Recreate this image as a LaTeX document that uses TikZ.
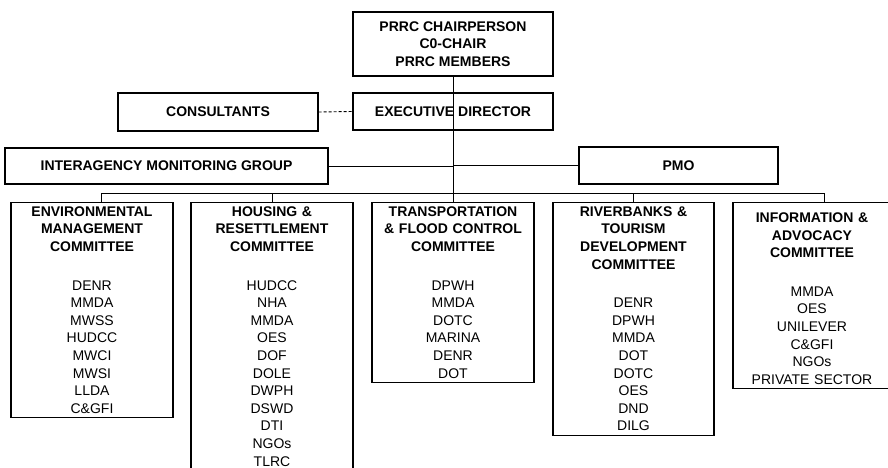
\documentclass[tikz,border=0pt]{standalone}
\usepackage{fontspec}
\setmainfont{Liberation Sans}
\usepackage{tikz}

\begin{document}
\begin{tikzpicture}[x=1bp,y=-1bp,
		box/.style={draw, line width=1.1bp, inner sep=0pt, align=center,
			font=\fontsize{14bp}{17.6bp}\selectfont\bfseries},
		comm/.style={draw, line width=1.1bp, anchor=north, inner xsep=0pt, inner ysep=4bp,
			align=center, font=\fontsize{14bp}{17.6bp}\selectfont},
		link/.style={line width=0.9bp}]
		\useasboundingbox (0,0) rectangle (888,468);

		\node[box, minimum width=200bp, minimum height=64bp] (chair) at (453,44) {PRRC CHAIRPERSON\\C0-CHAIR\\PRRC MEMBERS};
		\node[box, minimum width=200bp, minimum height=37bp] (exec) at (453,111.5) {EXECUTIVE DIRECTOR};
		\node[box, minimum width=200bp, minimum height=38bp] (cons) at (218,112) {CONSULTANTS};
		\node[box, minimum width=323bp, minimum height=36bp] (img) at (166.5,166) {INTERAGENCY MONITORING GROUP};
		\node[box, minimum width=199bp, minimum height=37bp] (pmo) at (678.5,165.5) {PMO};

		\node[comm, text width=162bp] (env) at (92,202) {\textbf{ENVIRONMENTAL}\\\textbf{MANAGEMENT}\\\textbf{COMMITTEE}\\[21bp]
			DENR\\MMDA\\MWSS\\HUDCC\\MWCI\\MWSI\\LLDA\\C\&GFI};
		\node[comm, text width=162bp] (housing) at (272,202) {\textbf{HOUSING \&}\\\textbf{RESETTLEMENT}\\\textbf{COMMITTEE}\\[21bp]
			HUDCC\\NHA\\MMDA\\OES\\DOF\\DOLE\\DWPH\\DSWD\\DTI\\NGOs\\TLRC};
		\node[comm, text width=162bp] (transport) at (453,202) {\textbf{TRANSPORTATION}\\\textbf{\& FLOOD CONTROL}\\\textbf{COMMITTEE}\\[21bp]
			DPWH\\MMDA\\DOTC\\MARINA\\DENR\\DOT};
		\node[comm, text width=161bp] (river) at (633.5,202) {\textbf{RIVERBANKS \&}\\\textbf{TOURISM}\\\textbf{DEVELOPMENT}\\\textbf{COMMITTEE}\\[21bp]
			DENR\\DPWH\\MMDA\\DOT\\DOTC\\OES\\DND\\DILG};
		\node[comm, text width=158bp] (info) at (812,202) {\rule{0pt}{16bp}\textbf{INFORMATION \&}\\\textbf{ADVOCACY}\\\textbf{COMMITTEE}\\[21bp]
			MMDA\\OES\\UNILEVER\\C\&GFI\\NGOs\\PRIVATE SECTOR};

		% lines
		\coordinate (busL) at (101,193);
		\coordinate (busR) at (824,193);
		\draw[link] (chair.south) -- (transport.north);
		\draw[link, dash pattern=on 3bp off 2bp] (cons.east) -- (exec.west);
		\draw[link] (img.east) -- (img.east -| chair.south);
		\draw[link] (pmo.west) -- (pmo.west -| chair.south);
		\draw[link] (env.north -| busL) -- (busL) -- (busR) -- (info.north -| busR);
		\draw[link] (housing.north) -- (housing.north |- busL);
		\draw[link] (river.north) -- (river.north |- busL);
\end{tikzpicture}
\end{document}
